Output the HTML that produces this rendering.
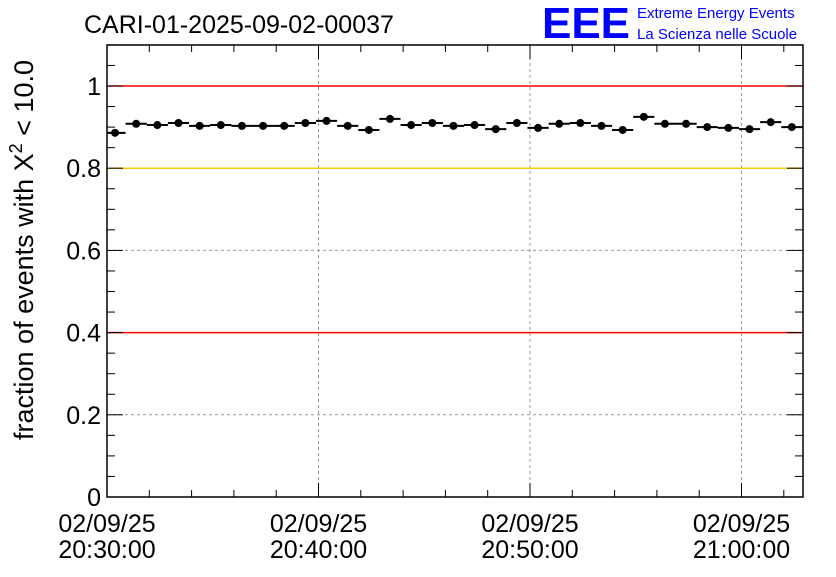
<!DOCTYPE html>
<html><head><meta charset="utf-8"><style>
body{margin:0;background:#fff;}
svg text{font-family:"Liberation Sans",sans-serif;}
</style></head><body>
<svg id="c" width="836" height="572" xmlns="http://www.w3.org/2000/svg">
<text x="84" y="33" font-size="25">CARI-01-2025-09-02-00037</text>
<text x="542" y="38" font-size="44" fill="#0000ff" font-weight="bold" textLength="88" lengthAdjust="spacingAndGlyphs">EEE</text>
<text x="637" y="18" font-size="15" fill="#0000ff">Extreme Energy Events</text>
<text x="637" y="39" font-size="15" fill="#0000ff">La Scienza nelle Scuole</text>
<text transform="translate(33,250) rotate(-90)" text-anchor="middle" font-size="27">fraction of events with X<tspan dy="-11" font-size="18">2</tspan><tspan dy="11"> &lt; 10.0</tspan></text>
<g id="grid"></g><g id="refs"></g><g id="axes"></g><g id="marks"></g>
</svg>
<script>
const values=[0.886,0.908,0.905,0.910,0.903,0.905,0.903,0.903,0.903,0.910,0.915,0.903,0.893,0.920,0.905,0.910,0.903,0.905,0.895,0.910,0.898,0.908,0.910,0.903,0.893,0.925,0.908,0.908,0.900,0.898,0.895,0.912,0.900];
const startOffsetMin=0.38;
const yTicks=[0,0.2,0.4,0.6,0.8,1];
const yTickLabels=["0","0.2","0.4","0.6","0.8","1"];
const xTickMins=[0,10,20,30];
const xTickLabels1=["02/09/25","02/09/25","02/09/25","02/09/25"];
const xTickLabels2=["20:30:00","20:40:00","20:50:00","21:00:00"];
const refLines=[1.0,0.8,0.4];
const refColors=["#ff0000","#ffcc00","#ff0000"];
const X0=107,X1=803,Y0=497,Y1=45,pxPerMin=21.15;
const xs=m=>X0+m*pxPerMin;
const ys=v=>Y0-v*411;
const NS="http://www.w3.org/2000/svg";
function mk(p,t,a){const e=document.createElementNS(NS,t);for(const k in a)e.setAttribute(k,a[k]);p.appendChild(e);return e;}
const grid=document.getElementById('grid'),axes=document.getElementById('axes'),marks=document.getElementById('marks'),refs=document.getElementById('refs');
yTicks.forEach((v,i)=>{
 if(v>0&&v<1){const l=mk(grid,'line',{x1:X0,x2:X1,y1:ys(v),y2:ys(v),stroke:'#999','stroke-dasharray':'3,3','stroke-width':1});
 
 }
 const t=mk(axes,'text',{x:X0-6,y:ys(v)+9,'text-anchor':'end','font-size':25});t.textContent=yTickLabels[i];
 
 
});
for(let k=0;k<=22;k++){const v=k*0.05;const len=(k%4==0)?16:8;
 mk(axes,'line',{x1:X0,x2:X0+len,y1:ys(v),y2:ys(v),stroke:'#000','stroke-width':1});
 mk(axes,'line',{x1:X1,x2:X1-len,y1:ys(v),y2:ys(v),stroke:'#000','stroke-width':1});}
xTickMins.forEach((m,i)=>{
 if(m>0){const l=mk(grid,'line',{x1:xs(m),x2:xs(m),y1:Y1,y2:Y0,stroke:'#999','stroke-dasharray':'3,3','stroke-width':1});
 
 }
 const t=mk(axes,'text',{x:xs(m),y:532,'text-anchor':'middle','font-size':25});t.textContent=xTickLabels1[i];
 
 
 const t2=mk(axes,'text',{x:xs(m),y:558,'text-anchor':'middle','font-size':25});t2.textContent=xTickLabels2[i];
 
 
});
for(let m=0;m<=32;m+=2){const len=(m%10==0)?14:7;
 mk(axes,'line',{x1:xs(m),x2:xs(m),y1:Y0,y2:Y0-len,stroke:'#000'});
 mk(axes,'line',{x1:xs(m),x2:xs(m),y1:Y1,y2:Y1+len,stroke:'#000'});}
const fr=mk(axes,'rect',{x:X0,y:Y1,width:X1-X0,height:Y0-Y1,fill:'none',stroke:'#000','stroke-width':1.5});


refLines.forEach((v,i)=>{const l=mk(refs,'line',{x1:X0,x2:X1,y1:ys(v),y2:ys(v),stroke:refColors[i],'stroke-width':1.5});
 
 });
values.forEach((v,i)=>{const m=startOffsetMin+i;
 const e=mk(marks,'line',{x1:Math.max(X0,xs(m-0.5)),x2:Math.min(X1,xs(m+0.5)),y1:ys(v),y2:ys(v),stroke:'#000','stroke-width':2});
 
 
 const c=mk(marks,'circle',{cx:xs(m),cy:ys(v),r:4,fill:'#000'});
 
 
});
</script>
</body></html>
